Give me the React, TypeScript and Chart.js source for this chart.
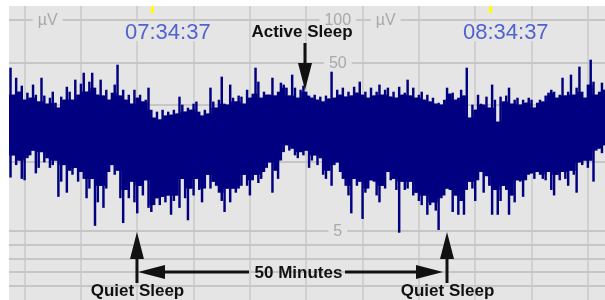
import React, { useEffect, useRef } from 'react';
import { Chart, registerables } from 'chart.js';

Chart.register(...registerables);

// ---- data (aEEG amplitude, µV) ----
// one column every 30 s, first column at 07:09:30 (minutes after 07:00)
const sampleStartMin = 9.5;
const sampleStepMin = 0.5;

const upperUV = [
  45.9, 29.6, 39.0, 31.1, 34.3, 27.3, 30.6, 28.2, 34.9, 29.6,
  26.5, 39.0, 29.2, 25.6, 28.2, 31.1, 26.0, 24.0, 28.7, 27.3,
  33.7, 31.1, 27.3, 37.8, 29.6, 35.4, 42.3, 31.1, 36.6, 42.3,
  33.2, 29.6, 37.8, 29.2, 32.1, 27.3, 30.6, 34.9, 48.2, 29.2,
  32.1, 27.3, 29.6, 25.6, 32.1, 28.2, 29.6, 26.5, 27.3, 33.2,
  23.2, 20.4, 22.5, 19.8, 23.2, 21.1, 22.5, 21.4, 23.2, 21.8,
  28.7, 25.2, 22.5, 24.0, 23.2, 25.6, 26.5, 22.5, 21.1, 23.2,
  21.8, 33.2, 26.5, 24.0, 27.3, 39.7, 25.6, 25.2, 34.9, 28.2,
  26.5, 29.2, 28.7, 25.6, 32.1, 28.2, 30.1, 45.9, 36.6, 28.2,
  31.1, 29.6, 29.6, 39.0, 29.2, 31.1, 36.0, 34.9, 33.2, 29.2,
  41.0, 33.2, 28.2, 32.1, 34.3, 31.1, 29.2, 28.2, 29.6, 27.3,
  28.7, 26.5, 29.2, 27.8, 43.0, 28.2, 32.1, 29.6, 33.2, 28.7,
  31.1, 29.2, 33.7, 30.6, 36.6, 29.6, 31.1, 28.2, 33.2, 29.2,
  31.1, 34.9, 29.6, 32.1, 33.2, 28.7, 31.1, 28.2, 33.7, 29.6,
  30.6, 37.8, 29.2, 33.2, 28.2, 29.6, 31.1, 27.3, 29.6, 26.5,
  28.2, 25.6, 26.0, 25.2, 27.3, 33.2, 30.1, 30.6, 27.3, 28.2,
  32.1, 29.2, 45.9, 20.4, 25.2, 23.2, 29.6, 25.6, 25.2, 28.7,
  24.0, 34.9, 27.3, 19.1, 28.7, 26.5, 29.2, 33.2, 25.6, 27.3,
  28.2, 25.2, 27.3, 26.0, 28.2, 27.3, 24.0, 26.0, 27.3, 26.5,
  29.2, 30.6, 32.1, 31.1, 28.2, 29.6, 39.0, 29.2, 31.1, 41.0,
  29.6, 33.2, 46.7, 31.1, 28.2, 34.9, 52.3, 36.6, 29.6, 31.1,
  36.0, 32.1,
];

const lowerUV = [
  8.9, 11.2, 9.8, 10.3, 8.8, 8.7, 10.7, 11.2, 12.1, 9.2,
  9.6, 11.8, 10.0, 10.7, 9.6, 9.8, 10.3, 7.5, 8.6, 9.8,
  7.8, 9.4, 9.1, 9.6, 8.6, 9.3, 8.8, 7.4, 8.1, 8.8,
  5.4, 7.1, 8.3, 6.7, 8.1, 9.3, 9.8, 9.1, 9.4, 7.4,
  5.6, 8.0, 7.4, 8.6, 7.1, 6.3, 8.3, 7.6, 8.7, 6.7,
  6.4, 6.9, 7.4, 6.9, 7.5, 7.1, 7.6, 6.2, 7.2, 7.6,
  6.7, 8.8, 7.4, 5.8, 8.1, 7.6, 8.8, 8.0, 7.1, 8.1,
  9.1, 8.1, 8.6, 8.3, 7.8, 7.2, 6.4, 8.1, 7.1, 8.1,
  7.8, 8.1, 8.3, 9.1, 8.3, 7.6, 8.7, 9.1, 8.5, 8.8,
  9.3, 9.6, 10.0, 7.8, 9.4, 8.8, 10.3, 11.8, 13.2, 12.1,
  12.5, 11.2, 10.7, 11.8, 11.2, 12.1, 9.6, 10.3, 11.2, 9.8,
  10.7, 9.1, 8.8, 9.4, 8.3, 9.8, 10.0, 9.3, 8.8, 8.3,
  7.6, 6.3, 8.8, 8.3, 8.6, 5.9, 7.8, 8.1, 8.7, 8.6,
  7.6, 7.1, 8.3, 8.1, 9.3, 8.7, 8.8, 8.0, 4.9, 8.6,
  8.0, 8.1, 8.6, 7.6, 7.8, 7.2, 6.9, 7.6, 6.2, 6.9,
  7.1, 6.5, 5.1, 7.4, 7.6, 8.1, 8.0, 6.4, 7.6, 6.2,
  7.2, 6.2, 8.0, 8.6, 8.1, 7.2, 8.7, 9.3, 7.8, 9.0,
  8.3, 6.2, 8.0, 6.2, 7.2, 8.3, 8.0, 6.2, 7.6, 7.1,
  8.7, 8.6, 7.5, 8.7, 9.1, 9.2, 8.8, 9.3, 9.1, 8.8,
  8.7, 9.3, 8.0, 7.6, 9.1, 8.7, 9.3, 8.8, 8.3, 9.4,
  9.1, 7.8, 10.0, 9.8, 10.3, 9.6, 10.3, 8.6, 12.1, 12.5,
  11.6, 13.2,
];

const timeMarkerMin = [34.617, 94.617];
const timeMarkerLabels = ['07:34:37', '08:34:37'];
const gridTimesMin = [12, 22, 32, 42, 52, 62, 72, 82, 92, 102, 112];
const majorGridUV = [100, 50, 25, 10, 5];
const minorGridUV = [4, 3, 2, 1];
const scaleLabelUV = [100, 50, 5];
const scaleLabelText = ['100', '50', '5'];

// ---- view ----
const X_MIN = 9.231;
const X_MAX = 115.04;
const Y_SPAN = 294;
const BG = '#e5e5e5';
const TRACE = '#000080';

// aEEG display: linear 0–10 µV, logarithmic 10–100 µV
function disp(v: number): number {
  return v <= 10 ? v * 13.8 : 138 + 142 * Math.log10(v / 10);
}

function arrow(ctx: CanvasRenderingContext2D, x1: number, y1: number, x2: number, y2: number) {
  const len = Math.hypot(x2 - x1, y2 - y1);
  const ux = (x2 - x1) / len, uy = (y2 - y1) / len;
  const head = 27, half = 7;
  const bx = x2 - ux * head, by = y2 - uy * head;
  ctx.strokeStyle = '#111';
  ctx.lineWidth = 3;
  ctx.beginPath();
  ctx.moveTo(x1, y1);
  ctx.lineTo(bx, by);
  ctx.stroke();
  ctx.fillStyle = '#111';
  ctx.beginPath();
  ctx.moveTo(x2, y2);
  ctx.lineTo(bx - uy * half, by + ux * half);
  ctx.lineTo(bx + uy * half, by - ux * half);
  ctx.closePath();
  ctx.fill();
}

const decorPlugin = {
  id: 'decor',
  beforeDraw(chart: any) {
    const { ctx, chartArea: a } = chart;
    ctx.save();
    ctx.fillStyle = '#ffffff';
    ctx.fillRect(0, 0, chart.width, chart.height);
    ctx.fillStyle = BG;
    ctx.fillRect(a.left, a.top, a.right - a.left, a.bottom - a.top);
    ctx.restore();
  },
  beforeDatasetsDraw(chart: any) {
    const { ctx, chartArea: a, scales } = chart;
    const xs = scales.x, ys = scales.y;
    ctx.save();
    ctx.lineWidth = 2;
    ctx.strokeStyle = '#d0d0d0';
    gridTimesMin.forEach((t) => {
      const x = Math.round(xs.getPixelForValue(t));
      ctx.beginPath();
      ctx.moveTo(x, a.top);
      ctx.lineTo(x, a.bottom);
      ctx.stroke();
    });
    ctx.strokeStyle = '#c6c6c6';
    minorGridUV.concat(majorGridUV).forEach((v) => {
      const y = Math.round(ys.getPixelForValue(disp(v)));
      ctx.beginPath();
      ctx.moveTo(a.left, y);
      ctx.lineTo(a.right, y);
      ctx.stroke();
    });
    ctx.font = '16px "Liberation Sans", Arial, sans-serif';
    ctx.textAlign = 'center';
    ctx.textBaseline = 'middle';
    const label = (text: string, x: number, y: number) => {
      const w = ctx.measureText(text).width;
      ctx.fillStyle = BG;
      ctx.fillRect(x - w / 2 - 5, y - 4, w + 10, 8);
      ctx.fillStyle = '#a8a8a8';
      ctx.fillText(text, x, y + 1);
    };
    const yTop = ys.getPixelForValue(disp(100));
    label('µV', xs.getPixelForValue(16.1), yTop);
    label('µV', xs.getPixelForValue(76.1), yTop);
    const labelX = xs.getPixelForValue(67.6);
    scaleLabelUV.forEach((v, i) => {
      label(scaleLabelText[i], labelX, ys.getPixelForValue(disp(v)));
    });
    ctx.font = '22px "Liberation Sans", Arial, sans-serif';
    ctx.textAlign = 'left';
    ctx.textBaseline = 'alphabetic';
    timeMarkerMin.forEach((t, i) => {
      const x = xs.getPixelForValue(t);
      ctx.fillStyle = '#ffff00';
      ctx.fillRect(Math.round(x) - 1, a.top, 3, 7);
      const w = ctx.measureText(timeMarkerLabels[i]).width;
      ctx.fillStyle = BG;
      ctx.fillRect(x - 29, 22, w + 4, 19);
      ctx.fillStyle = '#5163cc';
      ctx.fillText(timeMarkerLabels[i], x - 27, 39);
    });
    ctx.restore();
  },
  afterDatasetsDraw(chart: any) {
    const { ctx, scales } = chart;
    const xs = scales.x;
    const xActive = xs.getPixelForValue(61.78);
    const xQ1 = xs.getPixelForValue(31.95);
    const xQ2 = xs.getPixelForValue(86.99);
    ctx.save();
    arrow(ctx, xActive, 43, xActive, 90);
    arrow(ctx, xQ1, 283, xQ1, 232);
    arrow(ctx, xQ2, 283, xQ2, 232);
    arrow(ctx, 249, 272, xQ1 + 1, 272);
    arrow(ctx, 345, 272, xQ2 - 4, 272);
    ctx.fillStyle = '#111';
    ctx.font = 'bold 17px "Liberation Sans", Arial, sans-serif';
    ctx.textAlign = 'center';
    ctx.textBaseline = 'alphabetic';
    ctx.fillText('Active Sleep', xActive - 3, 37);
    ctx.fillText('Quiet Sleep', xQ1 + 0.5, 296);
    ctx.fillText('Quiet Sleep', xQ2 + 0.5, 296);
    ctx.fillText('50 Minutes', 298.5, 278);
    ctx.restore();
  },
};

export default function App() {
  const ref = useRef<HTMLCanvasElement>(null);
  useEffect(() => {
    const canvas = ref.current;
    if (!canvas) return;
    const n = upperUV.length;
    const tAt = (i: number) => sampleStartMin + i * sampleStepMin;
    // each column's full min–max extent, drawn as a thin line
    const spikes = upperUV.map((hi, i) => ({ x: tAt(i), y: [disp(lowerUV[i]), disp(hi)] }));
    // the part shared with both neighbours, drawn solid so the band has no gaps
    const core = upperUV.map((_, i) => {
      const a = Math.max(0, i - 1), b = Math.min(n - 1, i + 1);
      const hi = Math.min(upperUV[a], upperUV[i], upperUV[b]);
      const lo = Math.max(lowerUV[a], lowerUV[i], lowerUV[b]);
      return { x: tAt(i), y: [disp(lo), disp(hi)] };
    });
    const chart = new Chart(canvas, {
      type: 'bar',
      data: {
        datasets: [
          { data: core as any, backgroundColor: TRACE, borderWidth: 0, barThickness: 3.2, grouped: false } as any,
          { data: spikes as any, backgroundColor: TRACE, borderWidth: 0, barThickness: 1.8, grouped: false } as any,
        ],
      },
      options: {
        responsive: false,
        animation: false,
        devicePixelRatio: 1,
        layout: { padding: { left: 9, top: 6, right: 0, bottom: 0 } },
        scales: {
          x: { type: 'linear', min: X_MIN, max: X_MAX, display: false, offset: false },
          y: { type: 'linear', min: 0, max: Y_SPAN, display: false },
        },
        plugins: { legend: { display: false }, tooltip: { enabled: false } },
      },
      plugins: [decorPlugin],
    });
    return () => chart.destroy();
  }, []);
  return (
    <div style={{ position: 'absolute', left: 0, top: 0, width: 605, height: 300 }}>
      <canvas ref={ref} width={605} height={300} style={{ display: 'block' }} />
    </div>
  );
}
